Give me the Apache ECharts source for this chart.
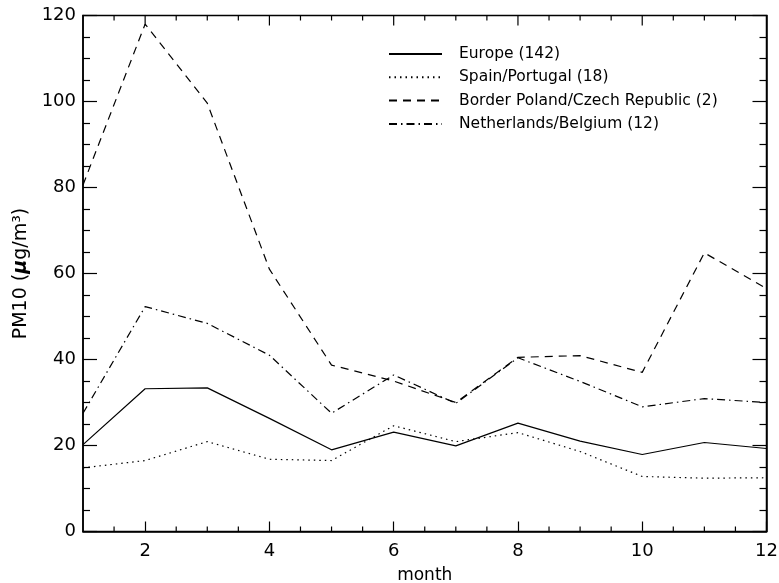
<!DOCTYPE html>
<html>
<head>
<meta charset="utf-8">
<script src="https://cdn.jsdelivr.net/npm/echarts@6/dist/echarts.min.js"></script>
<style>
html,body{margin:0;padding:0;background:#fff;}
#c{width:779px;height:583px;}
</style>
</head>
<body>
<div id="c"></div>
<script>
var months = [1,2,3,4,5,6,7,8,9,10,11,12];
var europe = [20.2, 33.2, 33.4, 26.3, 19.0, 23.1, 19.9, 25.2, 21.0, 17.9, 20.7, 19.3];
var spainPortugal = [14.8, 16.5, 20.9, 16.8, 16.5, 24.6, 20.9, 23.0, 18.6, 12.8, 12.4, 12.5];
var borderPlCz = [80.6, 118.0, 99.6, 61.0, 38.7, 35.0, 30.0, 40.5, 40.9, 37.0, 64.8, 56.5];
var nlBe = [27.5, 52.3, 48.4, 41.0, 27.5, 36.4, 29.8, 40.4, 34.9, 29.0, 30.9, 30.0];
var seriesNames = ['Europe (142)', 'Spain/Portugal (18)', 'Border Poland/Czech Republic (2)', 'Netherlands/Belgium (12)'];
var xTickLabels = [2,4,6,8,10,12];
var xMinorTicks = [1.5,2.5,3,3.5,4.5,5,5.5,6.5,7,7.5,8.5,9,9.5,10.5,11,11.5];
var yMin = 0, yMax = 120;

function pairs(vals){ return months.map(function(m,i){ return [m, vals[i]]; }); }

var FONT = 'DejaVu Sans';
var axisLineStyle = {color:'#000', width:1.5};
var tickLine = {color:'#000', width:1.2};

var mainX = {
  type:'value', min:1, max:12, position:'bottom',
  axisLine:{show:true, onZero:false, lineStyle:axisLineStyle},
  axisTick:{show:true, inside:true, length:10, customValues:xTickLabels, lineStyle:tickLine},
  axisLabel:{show:true, customValues:xTickLabels, color:'#000', fontFamily:FONT, fontSize:18, margin:11},
  splitLine:{show:false},
  name:'month', nameLocation:'middle', nameGap:36,
  nameTextStyle:{color:'#000', fontFamily:FONT, fontSize:17}
};
function yAxisDef(pos, withLabels){
  return {
    type:'value', min:yMin, max:yMax, interval:20, position:pos,
    axisLine:{show:true, onZero:false, lineStyle:axisLineStyle},
    axisTick:{show:true, inside:true, length:14, lineStyle:tickLine},
    minorTick:{show:true, splitNumber:4, length:7, lineStyle:tickLine},
    axisLabel:{show:withLabels, color:'#000', fontFamily:FONT, fontSize:18, margin:7},
    splitLine:{show:false},
    name: withLabels ? 'PM10 ({mu|μ}g/m³)' : '',
    nameLocation:'middle', nameGap:50, nameRotate:90,
    nameTextStyle:{color:'#000', fontFamily:FONT, fontSize:19,
      rich:{mu:{fontFamily:FONT, fontSize:19, fontStyle:'italic', fontWeight:'bold', color:'#000'}}}
  };
}

var styles = [
  {type:'solid'},
  {type:[1.5,4]},
  {type:[8,6]},
  {type:[8,4,1.5,4]}
];
var dataSets = [europe, spainPortugal, borderPlCz, nlBe];

// extra x ticks: top edge (major + minor) and bottom edge (minor)
var topTicks = xTickLabels.filter(function(v){ return v < 12; }).map(function(v){ return [v, 10]; })
  .concat(xMinorTicks.map(function(v){ return [v, 5]; }));
var bottomTicks = xMinorTicks.map(function(v){ return [v, 5]; });

function tickSeries(ticks, edgeValue, dir){
  return {
    type:'custom', silent:true, clip:false, z:10,
    data: ticks,
    renderItem: function(params, api){
      var x = api.value(0);
      var len = api.value(1);
      var p = api.coord([x, edgeValue]);
      return {type:'line', z2:10,
        shape:{x1:p[0], y1:p[1], x2:p[0], y2:p[1] + dir*len},
        style:{stroke:'#000', lineWidth:1.2}};
    }
  };
}

var series = dataSets.map(function(d,i){
  return {
    name: seriesNames[i], type:'line',
    data: pairs(d), symbol:'none', showSymbol:false,
    lineStyle:{color:'#000', width:1.2, type:styles[i].type},
    itemStyle:{color:'#000'}, z:3
  };
});
series.push(tickSeries(topTicks, yMax, 1));
series.push(tickSeries(bottomTicks, yMin, -1));

var chart = echarts.init(document.getElementById('c'), null, {renderer:'canvas'});
chart.setOption({
  backgroundColor:'#fff',
  animation:false,
  grid:{left:83, right:12.5, top:15.5, bottom:51.5, containLabel:false, outerBoundsMode:'none',
        show:true, borderColor:'#000', borderWidth:1.5, backgroundColor:'rgba(0,0,0,0)'},
  legend:{
    orient:'vertical', left:383, top:41,
    itemWidth:53, itemHeight:14, itemGap:7.3,
    itemStyle:{color:'rgba(0,0,0,0)', borderWidth:0, opacity:0},
    textStyle:{color:'#000', fontFamily:FONT, fontSize:15.5, padding:[0,0,0,12]},
    data: seriesNames
  },
  xAxis:[mainX],
  yAxis:[yAxisDef('left', true), yAxisDef('right', false)],
  series: series
});
</script>
</body>
</html>
